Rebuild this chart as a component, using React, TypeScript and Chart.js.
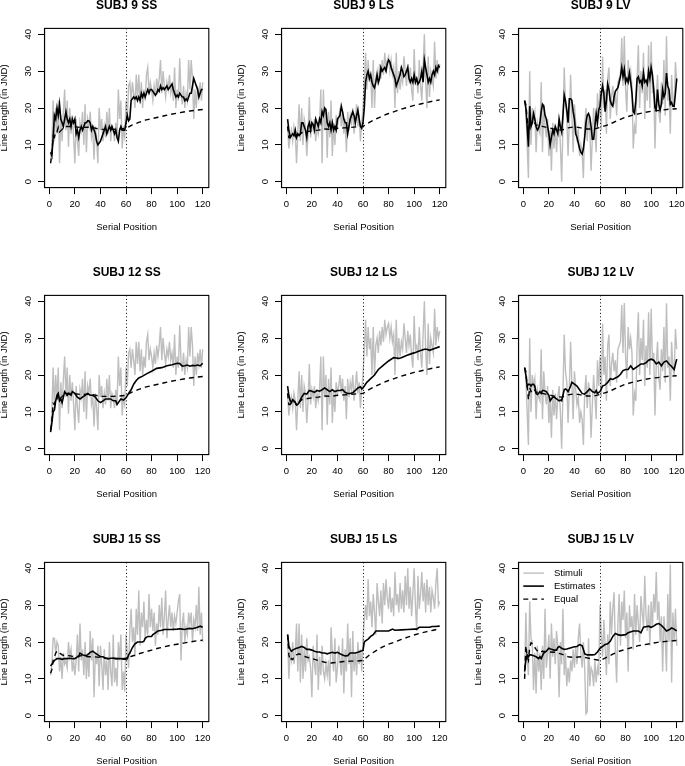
import React, { useEffect, useRef } from "react";
import { Chart, registerables } from "chart.js";

Chart.register(...registerables);

const FONT = '"Liberation Sans", Arial, Helvetica, sans-serif';
Chart.defaults.font.family = FONT;
Chart.defaults.color = "#000";

// ---------- axes ----------
const X_TICKS = [0, 20, 40, 60, 80, 100, 120];
const Y_TICKS = [0, 10, 20, 30, 40];
const SPLIT = 60;
const X_LABEL = "Serial Position";
const Y_LABEL = "Line Length (in JND)";
const LEGEND_NAMES = ["Stimuli", "Estimates", "Equal"];

// ---------- stimuli (serial positions 1..120) ----------
const STIM_SS = [
  5, 10, 22, 11, 20, 13, 22, 5, 18, 11, 19, 25,
  14, 22, 9.5, 20, 13, 18, 12, 5, 17, 11, 7, 16,
  14, 19, 10, 21, 8, 17, 15, 19, 12, 14, 6, 15,
  11, 5, 20, 14, 17, 11, 15, 12, 19, 13, 20, 11,
  15, 14, 11, 16, 12, 25, 17, 22, 9, 14, 12, 22,
  17, 26, 27, 22, 27, 24, 20, 29, 23, 29, 21, 27,
  20, 25, 22, 29, 31, 24, 27, 25, 22, 26, 23, 28,
  25, 28, 33, 24, 30, 26, 23, 27, 25, 29, 24, 26,
  22, 31, 20, 25, 22, 33.5, 24, 21, 26, 20, 24, 22,
  33, 25, 33, 28, 17, 25, 20, 26, 23, 27, 22, 27,
];
const STIM_LS = [
  15, 9, 12, 14, 11, 15, 13, 5, 13, 21, 11, 20,
  10, 17, 15, 7, 13, 23, 12, 16, 14, 17, 11, 15,
  13, 16, 25, 5, 25, 14, 20, 6.5, 19, 12, 22, 7,
  16, 10, 18, 15, 17, 20, 15, 19, 13, 17, 8, 19,
  14, 18, 16, 20, 13, 17, 21, 15, 18, 11, 16, 20,
  27, 35, 25, 33, 27, 30, 20, 33, 20, 28, 30, 26,
  32, 28, 33, 29, 35, 31, 33, 34, 30, 33, 29, 31,
  20, 35, 24, 30, 25, 29, 27, 34, 30, 26, 32, 28,
  31, 25, 22, 36, 27, 28, 24, 33, 26, 22, 31, 40,
  27, 20, 34, 23, 30, 28, 26, 38, 28, 33, 30, 32,
];
const STIM_LV = [
  22, 20, 10, 1, 30, 10, 20, 17, 19, 8, 16, 14,
  13, 27, 8, 21, 15, 12, 17, 7, 14, 3, 16, 9,
  15, 8, 14, 17, 10, 0, 15, 31, 21, 18, 7, 16,
  29, 18, 8, 21, 16, 12, 14, 7, 10, 8, 1, 15,
  20, 11, 18, 15, 3, 12, 20, 14, 8, 24, 17, 25,
  14, 34, 20, 25, 13, 28, 31, 17, 23, 26, 21, 24,
  18, 27, 28, 29, 39, 26, 39.5, 25, 19, 33, 27, 30,
  26, 9, 15, 13, 28, 37, 20, 30, 24, 35, 17, 28,
  22, 37, 20, 38, 24, 26, 9, 23, 29, 19, 16, 27,
  21, 33, 18, 39.5, 22, 25, 13, 29, 22, 20, 32.5, 27,
];
const STIM_15SS = [
  11, 14, 21, 21, 17, 20, 19, 12, 16, 10, 17, 14,
  15, 13, 20, 16, 18, 12, 15, 11, 15, 22, 12, 25,
  15, 18, 11, 20, 10, 17, 10.5, 23, 15, 21, 5, 17,
  14, 19, 8, 19, 14, 7, 18, 11, 15, 7, 20, 12,
  8, 22, 9, 13, 8, 20, 15, 22, 7, 12, 6.5, 22,
  17, 13, 23, 29, 20, 24, 16, 29, 22, 34, 19, 28,
  24, 31, 21, 26, 22, 33, 24, 29, 23, 28, 19, 25,
  22, 30, 24, 32, 22, 27, 34, 21, 26, 30, 24, 28,
  23, 27, 25, 28, 31, 33, 15, 25, 28, 20, 24, 22,
  28, 25, 28, 20, 26, 24, 30, 23, 35, 22, 28, 20,
];
const STIM_15LS = [
  22, 10, 17, 15, 20, 14, 17, 25, 12, 25, 9, 22,
  10, 18, 12, 21, 15, 16, 13, 5, 19, 14, 11, 22,
  7, 16, 11, 19, 12, 10, 14, 11, 15, 8, 24, 17,
  12, 21, 9, 13, 19, 15, 11, 21, 6, 18, 12, 25,
  14, 21, 5, 23, 12, 17, 11, 20, 14, 18, 12, 21,
  26, 30, 26, 37, 27, 31, 24, 33, 28, 22, 36, 31,
  27, 34, 25, 36, 30, 37, 32, 29, 35, 28, 32, 27,
  39, 30, 33, 28, 36, 29, 34, 28, 38, 30, 40, 29,
  35, 27, 33, 40, 30, 23, 38, 29, 33, 39, 31, 36,
  28, 37, 30, 35, 28, 34, 32, 29, 36, 40, 30, 31,
];
const STIM_15LV = [
  10, 28, 16, 11, 31, 21, 20, 7, 17, 6, 19, 12,
  17, 7, 19, 10, 29, 13, 17, 22, 10, 25, 16, 21,
  14, 23, 19, 5, 20, 14, 29, 11, 17, 8, 13, 9,
  15, 12, 18, 13, 19, 14, 21, 25, 17, 13, 20, 13,
  0.5, 1, 21, 8, 13, 12, 8, 15, 9, 13, 11, 30,
  22, 16, 26, 19, 11, 22, 14, 31, 22, 29, 33.5, 18,
  9, 25, 33, 19, 31, 26, 34, 21, 28, 12, 30, 24,
  27, 18, 33, 22, 30, 25, 20, 32.5, 28, 24, 38, 27,
  23, 30, 19, 31, 24, 33, 28, 39, 26, 31, 20, 27,
  12, 27, 22, 12, 33, 20, 41, 9, 28, 20, 29, 19,
];

// ---------- estimates (subject 9: every position) ----------
const EST_9SS = [
  8, 7, 12, 18, 17, 20, 18, 21, 17, 16, 15, 17,
  19, 17, 16, 17, 15, 17, 16, 17, 13, 14, 12, 14,
  15, 14, 15, 16, 16, 16.5, 16.5, 16, 14, 15, 14, 13,
  11, 10, 10.5, 11, 12, 13, 14, 15, 13, 14, 15, 14,
  15, 14, 13, 14, 12, 11, 14, 15, 14, 14, 14, 16,
  18, 16.5, 17, 22, 22.5, 23, 22.5, 23, 22, 23, 22, 24,
  23, 24, 23, 24, 25, 24, 25, 25, 24.5, 24, 23.5, 24,
  25, 24.5, 26, 25, 25.5, 25, 25.5, 26, 25, 25.5, 26, 26.5,
  25, 24, 23, 23.5, 23, 24, 23.5, 23, 23, 22, 22.5, 22,
  23, 24, 24, 26, 28, 27, 26, 25, 23, 24, 25, 25,
];
const EST_9LS = [
  17, 14, 12, 12.5, 13, 12.5, 14, 12, 13, 12.5, 13, 16,
  16, 15, 14, 12, 15, 16, 14, 16, 15.5, 14, 17, 16,
  15, 17, 16, 19, 18, 20, 19.5, 16, 15, 16, 14, 16,
  14, 15, 14, 17, 17.5, 18, 20.5, 19, 17, 16, 16, 13,
  15, 17, 18, 19, 18, 16, 18, 19.5, 17, 15, 14.5, 16,
  20, 27, 29, 30, 28, 29, 27, 26, 25.5, 27, 29, 27,
  28, 31, 30, 30.5, 31, 30, 32, 33, 32.5, 31, 30, 29,
  28, 26, 27, 28, 29, 31, 30, 28.5, 29, 30, 31, 28,
  27, 28, 27, 29, 27, 28, 26.5, 27, 28, 30, 27, 33,
  31, 29, 27, 28, 27, 29, 30, 29, 31, 30, 31.5, 31,
];
const EST_9LV = [
  22, 20, 15, 9.5, 20.5, 15, 16, 18.5, 17, 15, 14, 14.5,
  16, 19, 21, 20.5, 18, 17, 15, 13, 10, 12, 14, 13,
  15, 14, 13, 17, 15, 13.5, 18, 23.5, 22, 19.5, 16, 22.5,
  22.5, 22, 19, 17, 13, 12, 10.5, 9, 8, 7.5, 9, 12,
  16, 18, 18.5, 17.5, 15, 11.5, 11.5, 15, 18.5, 16, 19.5, 20.5,
  24, 26, 24, 19, 22, 26.5, 25, 22, 21, 20.5, 23, 24.5,
  25, 25.5, 27, 28.5, 31, 28.5, 30.5, 27, 28, 27, 29.5, 27,
  24, 19, 18.5, 22, 28, 28.5, 27, 27.5, 26, 29.5, 27, 27.5,
  26.5, 30, 28, 31, 29, 25, 20, 19.5, 25, 21, 19.5, 21,
  25, 23, 24, 29.5, 26, 25, 21, 21.5, 20.5, 20.5, 24, 28,
];

// ---------- estimates (subjects 12 & 15: [position, value]) ----------
type Pt = [number, number];
const EST_12SS: Pt[] = [
  [1, 4.5], [2, 7], [3, 10], [4, 10.5], [5, 13], [6, 14.5], [7, 15], [8, 13], [9, 13.5], [10, 12.5],
  [12, 15.5], [13, 15], [14, 14.5], [15, 15], [17, 14.5], [18, 15.5], [20, 15], [22, 14], [24, 13.5],
  [26, 14], [28, 14.5], [30, 15], [32, 14.5], [34, 14.5], [36, 14], [38, 13], [40, 12.5], [42, 13],
  [44, 13.5], [46, 13.5], [48, 13.5], [50, 13], [52, 13], [53, 12], [54, 12.5], [56, 13.5], [58, 13.2],
  [60, 13.8], [62, 15], [64, 16], [66, 17.5], [68, 18.5], [70, 19.2], [73, 19.7], [76, 20.3], [80, 21],
  [84, 21.8], [88, 22], [92, 22.5], [96, 22.8], [100, 23.2], [102, 23.1], [104, 22.4], [106, 22.5],
  [108, 22.7], [110, 22.4], [112, 22.6], [114, 22.5], [116, 22.7], [118, 22.5], [120, 23.2],
];
const EST_12LS: Pt[] = [
  [1, 17], [2, 14.5], [3, 13], [4, 12.5], [5, 13.3], [6, 13], [7, 12.5], [8, 11.8], [9, 12], [10, 12.5],
  [12, 14], [14, 15], [16, 14.8], [18, 15.8], [20, 15.6], [22, 15.3], [24, 15.8], [26, 15.6], [28, 16],
  [30, 16.5], [32, 16], [34, 15.5], [36, 16], [38, 15.5], [40, 15.8], [42, 15.8], [44, 16], [46, 15.3],
  [48, 15], [50, 15], [52, 15.2], [54, 15.8], [56, 16.5], [58, 16.8], [59, 16.2], [60, 16.5], [61, 17],
  [63, 18], [66, 19], [69, 20], [72, 21.5], [76, 22.7], [80, 23.8], [84, 24.7], [86, 24.6], [88, 24.5],
  [90, 24.7], [94, 25.3], [98, 25.8], [100, 26], [104, 26.5], [108, 27], [110, 27], [112, 26.7],
  [116, 27.2], [120, 27.7],
];
const EST_12LV: Pt[] = [
  [1, 22], [2, 20], [3, 17], [4, 17.5], [5, 17.5], [6, 17], [7, 17.5], [8, 17.5], [9, 17], [10, 15],
  [11, 14.7], [12, 15], [13, 15.5], [14, 15], [15, 15.8], [16, 15.8], [18, 15.5], [20, 14.5], [21, 13],
  [22, 13.5], [23, 14], [24, 14], [26, 13.5], [28, 13], [29, 13.2], [30, 13], [31, 14.5], [32, 16],
  [33, 16.2], [34, 16], [35, 15.5], [36, 16.2], [37, 17], [38, 18], [40, 17.5], [42, 17], [44, 16],
  [46, 15], [48, 14.8], [50, 15.5], [52, 16.2], [54, 15.5], [56, 15.2], [57, 15.8], [58, 15], [60, 15.5],
  [62, 17], [64, 17.3], [66, 18], [68, 19], [70, 18.8], [72, 19.2], [74, 19.5], [76, 20.2], [78, 21.2],
  [80, 21.5], [82, 21.5], [84, 22.5], [86, 21.5], [88, 22], [90, 22.5], [92, 23], [94, 23], [96, 23.3],
  [98, 24], [100, 24.3], [102, 24], [104, 23], [106, 23.5], [108, 22.5], [110, 23.5], [112, 23.8],
  [114, 23], [116, 22.3], [118, 21.5], [120, 24.3],
];
const EST_15SS: Pt[] = [
  [1, 13.5], [2, 14], [3, 14.5], [4, 15], [5, 15.2], [6, 15.5], [8, 15.5], [10, 15.3], [12, 15.5],
  [14, 15.5], [16, 15.6], [18, 15.5], [20, 15.5], [22, 16], [23, 16], [24, 17], [25, 16.8], [26, 16.5],
  [28, 16.3], [30, 16.5], [32, 17.2], [34, 17.5], [36, 17], [38, 16.5], [40, 16], [42, 16], [44, 15.6],
  [46, 15.4], [48, 15.6], [50, 15.6], [52, 15.5], [54, 15.5], [56, 15.5], [58, 15.3], [60, 15.3],
  [61, 15.5], [62, 16.5], [63, 17], [65, 18.5], [67, 19.5], [69, 20], [71, 20], [73, 20], [74, 20.2],
  [75, 21], [77, 21.5], [80, 21.5], [81, 22], [83, 22.5], [85, 23], [88, 23.2], [90, 23.4], [95, 23.4],
  [100, 23.5], [102, 23.6], [104, 23.5], [106, 23.4], [108, 23.6], [110, 23.7], [112, 23.6], [114, 23.8],
  [116, 24], [118, 24.3], [120, 24],
];
const EST_15LS: Pt[] = [
  [1, 22], [2, 19], [3, 18], [4, 17.5], [5, 17.8], [6, 18], [8, 18.3], [10, 18.5], [12, 18.8], [14, 18.5],
  [16, 18], [18, 18], [20, 17.8], [22, 17.5], [24, 17.3], [26, 17.3], [28, 17], [30, 17], [32, 16.8],
  [34, 17], [36, 17.2], [38, 17], [40, 17.2], [42, 16.8], [44, 16.5], [46, 16.2], [48, 16.3], [50, 17],
  [52, 17], [54, 17], [56, 17.2], [58, 17.5], [60, 17.7], [61, 20], [62, 20.3], [64, 20.8], [66, 21.5],
  [68, 22], [70, 23], [72, 23], [76, 23], [80, 23], [82, 23.3], [83, 23.5], [85, 23.2], [90, 23.3],
  [95, 23.4], [100, 23.5], [102, 23.5], [104, 24], [106, 24], [110, 24], [112, 24], [114, 24.2],
  [116, 24.2], [120, 24.3],
];
const EST_15LV: Pt[] = [
  [1, 12], [2, 15], [3, 16.5], [4, 16], [5, 16.5], [6, 16.5], [8, 16.3], [10, 16], [12, 15.5], [13, 16],
  [14, 15.5], [15, 16.3], [16, 17], [18, 17.5], [20, 18.3], [22, 18], [24, 17.8], [26, 17.8], [27, 18.5],
  [28, 18.8], [30, 18.3], [32, 18], [34, 18.1], [36, 18.3], [38, 18.5], [40, 18.7], [42, 18.8], [44, 19.3],
  [46, 19], [47, 18], [48, 16.8], [50, 16.5], [54, 16.5], [56, 16.6], [58, 17.3], [60, 18.3], [62, 18.8],
  [64, 19.3], [66, 19.5], [68, 20.2], [70, 21.5], [72, 22.3], [74, 22], [76, 21.8], [80, 22], [82, 22.5],
  [86, 23], [90, 23], [92, 22.5], [94, 24], [98, 24.3], [100, 24], [102, 24.3], [104, 24.8], [106, 25],
  [108, 24.5], [110, 23.8], [112, 23], [114, 23.3], [116, 23.8], [118, 23.5], [120, 23],
];

// ---------- equal-weighting lines ----------
const EQ_SS: Pt[] = [
  [1, 5], [2, 7.5], [3, 12.3], [4, 12], [5, 13.6], [6, 13.5], [7, 14.7], [8, 13.5], [10, 14.2], [12, 15],
  [15, 15], [20, 14.9], [25, 14.7], [30, 14.8], [35, 14.6], [40, 14.2], [45, 14.2], [50, 14.2], [55, 14.3],
  [60, 14.5], [65, 15.4], [70, 16.1], [75, 16.7], [80, 17.1], [85, 17.5], [90, 17.9], [95, 18.3],
  [100, 18.6], [105, 18.9], [110, 19.2], [115, 19.4], [120, 19.6],
];
const EQ_LS: Pt[] = [
  [1, 15], [2, 12], [3, 12], [4, 12.5], [5, 12.2], [6, 12.7], [7, 12.7], [8, 11.8], [10, 12.6], [12, 13.3],
  [15, 13.5], [20, 13.8], [25, 14], [30, 14.3], [35, 14.2], [40, 14.5], [45, 14.6], [50, 14.7], [55, 14.9],
  [60, 15], [65, 16.1], [70, 17], [75, 17.8], [80, 18.5], [85, 19.1], [90, 19.7], [95, 20.2], [100, 20.7],
  [105, 21.1], [110, 21.5], [115, 21.9], [120, 22.2],
];
const EQ_LV: Pt[] = [
  [1, 22], [2, 21], [3, 17.3], [4, 13.3], [5, 16.6], [6, 15.5], [8, 16.3], [10, 15.3], [12, 15.4],
  [15, 15], [20, 14.6], [25, 14.2], [30, 14], [35, 14.6], [40, 14.9], [45, 14.6], [50, 14.3], [55, 14.3],
  [60, 14.7], [65, 15.3], [70, 16], [75, 16.8], [80, 17.5], [85, 18], [90, 18.4], [95, 18.8], [100, 19.1],
  [105, 19.3], [110, 19.5], [115, 19.7], [120, 19.8],
];
const EQ_15SS: Pt[] = [
  [1, 11.5], [2, 12.5], [3, 15], [4, 16], [5, 17], [6, 17.5], [7, 17], [8, 17], [10, 16.5], [12, 16.3],
  [15, 16.3], [20, 16], [25, 16.3], [30, 16], [35, 16], [40, 15.8], [45, 15.6], [50, 15.6], [55, 15.4],
  [60, 15.6], [65, 16.2], [70, 16.8], [75, 17.3], [80, 17.8], [85, 18.3], [90, 18.7], [95, 19.1],
  [100, 19.4], [105, 19.7], [110, 20], [115, 20.3], [120, 20.5],
];
const EQ_15LS: Pt[] = [
  [1, 22], [2, 16.5], [3, 15], [4, 15.5], [5, 15.2], [6, 16], [8, 16.5], [10, 16.8], [12, 16.5], [15, 16],
  [20, 15.5], [25, 15], [30, 14.5], [35, 14.3], [40, 14.5], [45, 14.7], [50, 14.8], [55, 14.8], [60, 15],
  [65, 16.5], [70, 17.6], [75, 18.6], [80, 19.4], [85, 20], [90, 20.7], [95, 21.3], [100, 21.9],
  [105, 22.4], [110, 22.8], [115, 23.2], [120, 23.6],
];
const EQ_15LV: Pt[] = [
  [1, 10], [2, 19], [3, 16], [4, 15], [5, 18.5], [6, 19.8], [7, 19.5], [8, 19], [10, 18], [12, 17.2],
  [15, 17.5], [20, 17.3], [25, 17.2], [30, 16.7], [35, 16], [40, 15.8], [45, 16], [50, 15.7], [55, 15.3],
  [60, 15], [65, 15.8], [70, 16.7], [75, 17.5], [80, 18], [85, 18.5], [90, 19], [95, 19.3], [100, 19.6],
  [105, 19.9], [110, 20.1], [115, 20.3], [120, 20.4],
];

const TITLES = [
  "SUBJ 9 SS", "SUBJ 9 LS", "SUBJ 9 LV",
  "SUBJ 12 SS", "SUBJ 12 LS", "SUBJ 12 LV",
  "SUBJ 15 SS", "SUBJ 15 LS", "SUBJ 15 LV",
];

type XY = { x: number; y: number };
const seq = (vals: number[]): XY[] => vals.map((y, i) => ({ x: i + 1, y }));
const pts = (p: Pt[]): XY[] => p.map(([x, y]) => ({ x, y }));

const PANELS = [
  { stim: seq(STIM_SS), est: seq(EST_9SS), eq: pts(EQ_SS) },
  { stim: seq(STIM_LS), est: seq(EST_9LS), eq: pts(EQ_LS) },
  { stim: seq(STIM_LV), est: seq(EST_9LV), eq: pts(EQ_LV) },
  { stim: seq(STIM_SS), est: pts(EST_12SS), eq: pts(EQ_SS) },
  { stim: seq(STIM_LS), est: pts(EST_12LS), eq: pts(EQ_LS) },
  { stim: seq(STIM_LV), est: pts(EST_12LV), eq: pts(EQ_LV) },
  { stim: seq(STIM_15SS), est: pts(EST_15SS), eq: pts(EQ_15SS) },
  { stim: seq(STIM_15LS), est: pts(EST_15LS), eq: pts(EQ_15LS) },
  { stim: seq(STIM_15LV), est: pts(EST_15LV), eq: pts(EQ_15LV) },
];
const LEGEND_PANEL = 8;

// ---------- layout ----------
const CW = 237;
const CH = 267;
const COL_STEP = 237.2;
const ROW_STEP = 266.8;
const OFF = 6;

const rStyle = {
  id: "rStyle",
  afterDraw(chart: any, _args: any, opts: any) {
    const { ctx, chartArea: a, scales } = chart;
    const xs = scales.x;
    const ys = scales.y;
    ctx.save();
    // dotted split line
    ctx.strokeStyle = "#000";
    ctx.lineWidth = 1;
    ctx.setLineDash([1, 2.5]);
    const px = Math.round(xs.getPixelForValue(SPLIT)) + 0.5;
    ctx.beginPath();
    ctx.moveTo(px, a.top);
    ctx.lineTo(px, a.bottom);
    ctx.stroke();
    ctx.setLineDash([]);
    // box
    ctx.lineWidth = 1.1;
    ctx.strokeRect(a.left, a.top, a.right - a.left, a.bottom - a.top);
    // rotated y tick labels (R style)
    ctx.fillStyle = "#000";
    ctx.font = `9.5px ${FONT}`;
    ctx.textAlign = "center";
    ctx.textBaseline = "middle";
    for (const v of Y_TICKS) {
      const py = ys.getPixelForValue(v);
      ctx.save();
      ctx.translate(a.left - 16.5, py);
      ctx.rotate(-Math.PI / 2);
      ctx.fillText(String(v), 0, 0);
      ctx.restore();
    }
    // in-plot legend (R style, no box)
    if (opts && opts.legend) {
      ctx.textAlign = "left";
      chart.data.datasets.forEach((ds: any, i: number) => {
        const yy = a.top + 10.7 + 13 * i;
        ctx.strokeStyle = ds.borderColor;
        ctx.lineWidth = ds.borderWidth;
        ctx.setLineDash(ds.borderDash || []);
        ctx.beginPath();
        ctx.moveTo(a.left + 4.8, yy);
        ctx.lineTo(a.left + 25.4, yy);
        ctx.stroke();
        ctx.setLineDash([]);
        ctx.fillStyle = "#000";
        ctx.fillText(ds.label, a.left + 35.4, yy);
      });
    }
    ctx.restore();
  },
};

function Panel({ idx }: { idx: number }) {
  const ref = useRef<HTMLCanvasElement>(null);
  const r = Math.floor(idx / 3);
  const c = idx % 3;
  useEffect(() => {
    const p = PANELS[idx];
    const axisFont = { size: 9.5, family: FONT };
    const chart = new Chart(ref.current as HTMLCanvasElement, {
      type: "line",
      data: {
        datasets: [
          {
            label: LEGEND_NAMES[0],
            data: p.stim,
            borderColor: "#bebebe",
            backgroundColor: "#bebebe",
            borderWidth: 1.4,
            pointRadius: 0,
            order: 3,
          },
          {
            label: LEGEND_NAMES[1],
            data: p.est,
            borderColor: "#000",
            backgroundColor: "#000",
            borderWidth: 1.6,
            pointRadius: 0,
            order: 1,
          },
          {
            label: LEGEND_NAMES[2],
            data: p.eq,
            borderColor: "#000",
            backgroundColor: "#000",
            borderWidth: 1.4,
            borderDash: [5, 4],
            pointRadius: 0,
            order: 2,
          },
        ],
      },
      options: {
        responsive: false,
        animation: false,
        events: [],
        layout: { padding: { left: 0, right: CW - (208.8 + OFF), top: 0, bottom: 0 } },
        plugins: {
          tooltip: { enabled: false },
          legend: { display: false },
          rStyle: { legend: idx === LEGEND_PANEL },
          title: {
            display: true,
            text: TITLES[idx],
            fullSize: false,
            color: "#000",
            font: { size: 12, weight: "bold", family: FONT },
            padding: { top: 4, bottom: 16 },
          },
        },
        scales: {
          x: {
            type: "linear",
            min: -3.76,
            max: 124.76,
            afterBuildTicks: (s: any) => {
              s.ticks = X_TICKS.map((v) => ({ value: v }));
            },
            afterFit: (s: any) => {
              s.height = CH - (187.6 + OFF);
            },
            grid: { drawOnChartArea: false, drawTicks: true, tickLength: 6.5, color: "#000", lineWidth: 1 },
            border: { display: true, color: "#000", width: 1.1 },
            ticks: { color: "#000", font: axisFont, padding: 5, maxRotation: 0, autoSkip: false },
            title: {
              display: true,
              text: X_LABEL,
              color: "#000",
              font: axisFont,
              padding: { top: 0, bottom: 27.5 },
            },
          },
          y: {
            type: "linear",
            min: -1.6,
            max: 41.6,
            afterBuildTicks: (s: any) => {
              s.ticks = Y_TICKS.map((v) => ({ value: v }));
            },
            afterFit: (s: any) => {
              s.width = 44.5 + OFF;
            },
            grid: { drawOnChartArea: false, drawTicks: true, tickLength: 6.5, color: "#000", lineWidth: 1 },
            border: { display: true, color: "#000", width: 1.1 },
            ticks: { display: false },
            title: {
              display: true,
              text: Y_LABEL,
              color: "#000",
              font: axisFont,
              padding: { top: 4.3, bottom: 0 },
            },
          },
        },
      } as any,
      plugins: [rStyle],
    });
    return () => chart.destroy();
  }, [idx]);
  return (
    <canvas
      ref={ref}
      width={CW}
      height={CH}
      style={{
        position: "absolute",
        left: c * COL_STEP - OFF,
        top: r * ROW_STEP - OFF,
        width: CW,
        height: CH,
      }}
    />
  );
}

export default function App() {
  return (
    <div
      style={{
        position: "absolute",
        left: 0,
        top: 0,
        width: 685,
        height: 766,
        overflow: "hidden",
        background: "#fff",
      }}
    >
      {TITLES.map((_, i) => (
        <Panel key={i} idx={i} />
      ))}
    </div>
  );
}
